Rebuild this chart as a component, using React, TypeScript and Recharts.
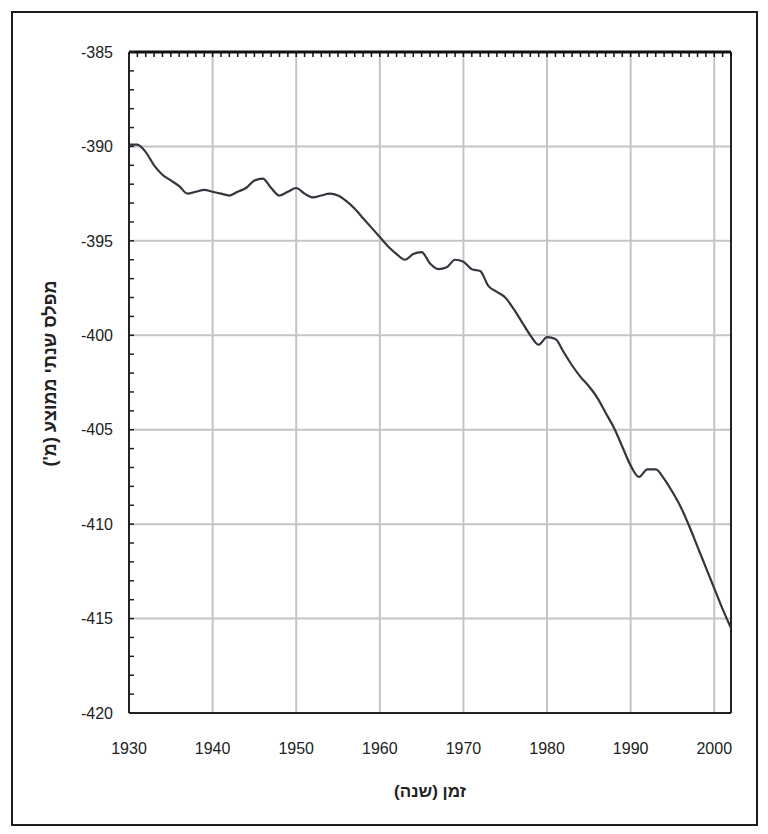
import { CartesianGrid, Label, Line, LineChart, ReferenceLine, XAxis, YAxis } from "recharts";

// Annual mean level, 1930-2002
const YEARS = [
  1930, 1931, 1932, 1933, 1934, 1935, 1936, 1937, 1938, 1939,
  1940, 1941, 1942, 1943, 1944, 1945, 1946, 1947, 1948, 1949,
  1950, 1951, 1952, 1953, 1954, 1955, 1956, 1957, 1958, 1959,
  1960, 1961, 1962, 1963, 1964, 1965, 1966, 1967, 1968, 1969,
  1970, 1971, 1972, 1973, 1974, 1975, 1976, 1977, 1978, 1979,
  1980, 1981, 1982, 1983, 1984, 1985, 1986, 1987, 1988, 1989,
  1990, 1991, 1992, 1993, 1994, 1995, 1996, 1997, 1998, 1999,
  2000, 2001, 2002,
];

const LEVELS = [
  -389.9, -389.9, -390.3, -391.0, -391.5, -391.8, -392.1, -392.5, -392.4, -392.3,
  -392.4, -392.5, -392.6, -392.4, -392.2, -391.8, -391.7, -392.2, -392.6, -392.4,
  -392.2, -392.5, -392.7, -392.6, -392.5, -392.6, -392.9, -393.3, -393.8, -394.3,
  -394.8, -395.3, -395.7, -396.0, -395.7, -395.6, -396.2, -396.5, -396.4, -396.0,
  -396.1, -396.5, -396.6, -397.4, -397.7, -398.0, -398.6, -399.3, -400.0, -400.5,
  -400.1, -400.2, -400.9, -401.6, -402.2, -402.7, -403.3, -404.1, -404.9, -405.9,
  -406.9, -407.5, -407.1, -407.1, -407.6, -408.3, -409.1, -410.1, -411.2, -412.3,
  -413.4, -414.5, -415.5,
];

const X_TICKS = [1930, 1940, 1950, 1960, 1970, 1980, 1990, 2000];
const X_GRID = [1940, 1950, 1960, 1970, 1980, 1990, 2000];
const Y_TICKS_MINOR = Array.from({ length: 36 }, (_, i) => -420 + i);
const Y_GRID = [-390, -395, -400, -405, -410, -415];

const X_TITLE = "זמן (שנה)";
const Y_TITLE = "מפלס שנתי ממוצע (מ')";

const data = YEARS.map((year, i) => ({ year, level: LEVELS[i] }));

const FONT = "'Liberation Sans', Arial, sans-serif";
const INK = "#222";

function XTitle({ viewBox }: any) {
  const cx = viewBox.x + viewBox.width / 2;
  return (
    <text x={cx} y={viewBox.y + 84} textAnchor="middle" direction="rtl" fontFamily={FONT} fontWeight="bold" fontSize={17} fill={INK}>
      {X_TITLE}
    </text>
  );
}

function YTitle({ viewBox }: any) {
  const cy = viewBox.y + viewBox.height / 2 - 9;
  const x = 56;
  return (
    <text x={x} y={cy} transform={`rotate(-90 ${x} ${cy})`} textAnchor="middle" direction="rtl" fontFamily={FONT} fontWeight="bold" fontSize={18} fill={INK}>
      {Y_TITLE}
    </text>
  );
}

export default function App() {
  return (
    <div style={{ position: "absolute", left: 0, top: 0, width: 768, height: 834, background: "#fff" }}>
      <div
        style={{
          position: "absolute",
          left: 11,
          top: 11,
          width: 747,
          height: 815,
          border: "2px solid #1e1e1e",
          boxSizing: "border-box",
        }}
      />
      <div style={{ position: "absolute", left: 0, top: 0 }}>
        <LineChart width={768} height={834} data={data} margin={{ top: 51, right: 37, bottom: 91, left: 79 }}>
          <CartesianGrid
            stroke="#c4c4c4"
            strokeWidth={2}
            horizontalValues={Y_GRID}
            verticalValues={X_GRID}
          />
          <XAxis
            dataKey="year"
            type="number"
            domain={[1930, 2002]}
            ticks={X_TICKS}
            allowDataOverflow
            height={30}
            tickLine={false}
            tickSize={0}
            tickMargin={30}
            axisLine={{ stroke: INK, strokeWidth: 2 }}
            tick={{ fontFamily: FONT, fontSize: 16, fill: "#222" }}
          >
            <Label content={<XTitle />} />
          </XAxis>
          <XAxis
            xAxisId="top"
            orientation="top"
            dataKey="year"
            type="number"
            domain={[1930, 2002]}
            ticks={YEARS}
            interval={0}
            height={1}
            tickSize={-5}
            tickLine={{ stroke: "#111", strokeWidth: 1.5 }}
            axisLine={{ stroke: "#111", strokeWidth: 3 }}
            tick={() => <g />}
          />
          <YAxis
            type="number"
            domain={[-420, -385]}
            ticks={Y_TICKS_MINOR}
            interval={0}
            width={50}
            tickSize={-5}
            tickMargin={21}
            tickLine={{ stroke: INK, strokeWidth: 1.5 }}
            axisLine={{ stroke: INK, strokeWidth: 2 }}
            tickFormatter={(v: number) => (v % 5 === 0 ? String(v) : "")}
            tick={{ fontFamily: FONT, fontSize: 16, fill: "#222" }}
          >
            <Label content={<YTitle />} />
          </YAxis>
          <ReferenceLine x={2002} stroke={INK} strokeWidth={2} />
          <Line
            type="monotone"
            dataKey="level"
            stroke="#35353f"
            strokeWidth={2.2}
            dot={false}
            isAnimationActive={false}
          />
        </LineChart>
      </div>
    </div>
  );
}
